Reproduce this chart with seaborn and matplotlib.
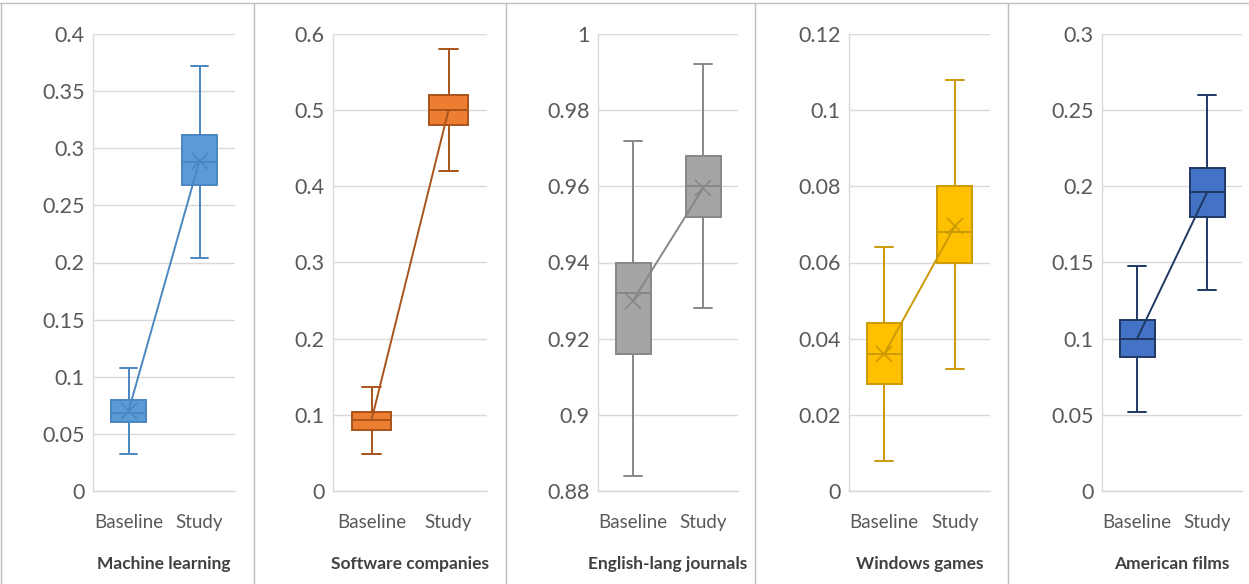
import numpy as np
import pandas as pd
import matplotlib.pyplot as plt
import seaborn as sns
from matplotlib.ticker import FuncFormatter, MultipleLocator
from matplotlib.lines import Line2D

# categories and panel titles
groups = ['Baseline', 'Study']
titles = ['Machine learning', 'Software companies', 'English-lang journals',
          'Windows games', 'American films']

# five-number summaries: low whisker, Q1, median, Q3, high whisker
ml_base = [0.032, 0.060, 0.068, 0.080, 0.108]
ml_study = [0.204, 0.268, 0.288, 0.312, 0.372]
sw_base = [0.049, 0.080, 0.093, 0.104, 0.136]
sw_study = [0.420, 0.480, 0.500, 0.520, 0.580]
en_base = [0.884, 0.916, 0.932, 0.940, 0.972]
en_study = [0.928, 0.952, 0.960, 0.968, 0.992]
wg_base = [0.008, 0.028, 0.036, 0.044, 0.064]
wg_study = [0.032, 0.060, 0.068, 0.080, 0.108]
af_base = [0.052, 0.088, 0.100, 0.112, 0.148]
af_study = [0.132, 0.180, 0.196, 0.212, 0.260]

# means (joined by the line)
ml_mean = [0.070, 0.289]
sw_mean = [0.093, 0.500]
en_mean = [0.930, 0.9595]
wg_mean = [0.036, 0.0695]
af_mean = [0.100, 0.196]

# axis ranges
y_ranges = [(0, 0.4, 0.05), (0, 0.6, 0.1), (0.88, 1.0, 0.02), (0, 0.12, 0.02), (0, 0.3, 0.05)]

panels = [(ml_base, ml_study, ml_mean), (sw_base, sw_study, sw_mean),
          (en_base, en_study, en_mean), (wg_base, wg_study, wg_mean),
          (af_base, af_study, af_mean)]

faces = ['#5B9BD5', '#ED7D31', '#A5A5A5', '#FFC000', '#4472C4']
edges = ['#4A86C0', '#A9531B', '#878787', '#CC9A06', '#1F3864']
show_mean_marker = [True, False, True, True, False]

sns.set_theme(style='white')
plt.rcParams['font.family'] = ['Lato', 'DejaVu Sans']

W, H = 1249, 584
fig = plt.figure(figsize=(W / 100, H / 100), dpi=100)

# plot areas in pixels (left, right), top / bottom shared
ax_x = [(93, 235), (333, 487), (598, 738), (849, 990), (1102, 1242)]
top_px, bot_px = 34, 491

fmt = FuncFormatter(lambda v, p: '{:g}'.format(round(v, 6)))

for i, (base, study, means) in enumerate(panels):
    l, r = ax_x[i]
    ax = fig.add_axes([l / W, 1 - bot_px / H, (r - l) / W, (bot_px - top_px) / H])
    df = pd.DataFrame({'group': ['Baseline'] * 5 + ['Study'] * 5,
                       'value': base + study})
    sns.boxplot(data=df, x='group', y='value', order=groups, color=faces[i],
                linecolor=edges[i], saturation=1, width=0.5, whis=(0, 100),
                linewidth=1.4, ax=ax)
    sns.pointplot(x=groups, y=means, color=edges[i], markers='x',
                  markersize=11 if show_mean_marker[i] else 0,
                  markeredgewidth=1.2, linewidth=1.4, errorbar=None, ax=ax)
    lo, hi, step = y_ranges[i]
    ax.set_ylim(lo, hi)
    ax.set_xlim(-0.5, 1.5)
    ax.yaxis.set_major_locator(MultipleLocator(step))
    ax.yaxis.set_major_formatter(fmt)
    ax.grid(axis='y', color='#D9D9D9', linewidth=1)
    ax.set_axisbelow(True)
    for s in ['top', 'right']:
        ax.spines[s].set_visible(False)
    for s in ['left', 'bottom']:
        ax.spines[s].set_color('#D9D9D9')
        ax.spines[s].set_linewidth(1)
    ax.tick_params(axis='y', length=0, pad=6, labelsize=15.5, labelcolor='#595959')
    ax.tick_params(axis='x', length=0, pad=16.5, labelsize=13.5, labelcolor='#595959')
    ax.set_ylabel('')
    ax.set_xlabel(titles[i], fontsize=12.5, fontweight='bold', color='#404040', labelpad=18)

# panel borders
border = '#BFBFBF'
fig.add_artist(Line2D([0, 1], [1 - 3 / H, 1 - 3 / H], transform=fig.transFigure, color=border, lw=1))
for xb in [1, 254, 506, 755, 1008]:
    fig.add_artist(Line2D([xb / W, xb / W], [0, 1 - 3 / H], transform=fig.transFigure, color=border, lw=1))

plt.savefig('out.png', dpi=100)
